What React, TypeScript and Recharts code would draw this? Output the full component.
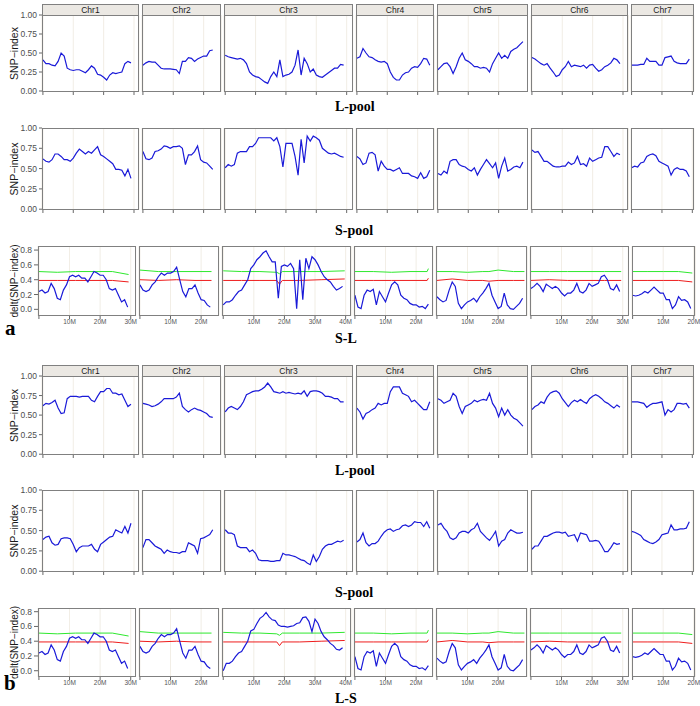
import React from 'react';
import { LineChart, Line, XAxis, YAxis, CartesianGrid } from 'recharts';

// SNP-index / delta(SNP-index) facets, two comparisons (a: S-L, b: L-S)

const CHROMS = ['Chr1', 'Chr2', 'Chr3', 'Chr4', 'Chr5', 'Chr6', 'Chr7'];
const X_DOMAINS: [number, number][] = [
  [-0.3, 31.6], [-0.3, 25.8], [-0.4, 42.0], [-0.3, 25.5], [-0.3, 29.5], [-0.3, 31.8], [-0.2, 20.5],
];
const X_TICKS = [[0, 10, 20, 30], [0, 10, 20], [0, 10, 20, 30, 40], [0, 10, 20], [0, 10, 20], [0, 10, 20, 30], [0, 10, 20]];
const SNP_TICKS = [0, 0.25, 0.5, 0.75, 1];
const DELTA_TICKS = [0, 0.2, 0.4, 0.6, 0.8];

// window positions (Mb) per chromosome
const POS = [
  [0, 1, 2, 3, 4, 5, 6, 7, 8, 9, 10, 11, 12, 13, 14, 15, 16, 17, 18, 19, 20, 21, 22, 23, 24, 25, 26, 27, 28, 29],
  [0, 1, 2, 3, 4, 5, 6, 7, 8, 9, 10, 11, 12, 13, 14, 15, 16, 17, 18, 19, 20, 21, 22, 23],
  [0, 1, 2, 3, 4, 5, 6, 7, 8, 9, 10, 11, 12, 13, 14, 15, 16, 17, 18, 19, 20, 21, 22, 23, 24, 25, 26, 27, 28, 29, 30, 31, 32, 33, 34, 35, 36, 37, 38, 39],
  [0, 1, 2, 3, 4, 5, 6, 7, 8, 9, 10, 11, 12, 13, 14, 15, 16, 17, 18, 19, 20, 21, 22, 23, 24],
  [0, 1, 2, 3, 4, 5, 6, 7, 8, 9, 10, 11, 12, 13, 14, 15, 16, 17, 18, 19, 20, 21, 22, 23, 24, 25, 26, 27, 28],
  [0, 1, 2, 3, 4, 5, 6, 7, 8, 9, 10, 11, 12, 13, 14, 15, 16, 17, 18, 19, 20, 21, 22, 23, 24, 25, 26, 27, 28, 29],
  [0, 1, 2, 3, 4, 5, 6, 7, 8, 9, 10, 11, 12, 13, 14, 15, 16, 17, 18, 19],
];

const A_L_POOL = [
  [0.41, 0.36, 0.36, 0.34, 0.33, 0.39, 0.5, 0.46, 0.3, 0.28, 0.27, 0.28, 0.28, 0.26, 0.24, 0.28, 0.33, 0.3, 0.22, 0.21, 0.18, 0.145, 0.21, 0.24, 0.23, 0.24, 0.25, 0.36, 0.39, 0.37],
  [0.34, 0.37, 0.39, 0.38, 0.38, 0.34, 0.3, 0.29, 0.29, 0.29, 0.285, 0.28, 0.23, 0.39, 0.39, 0.44, 0.43, 0.39, 0.42, 0.44, 0.46, 0.46, 0.53, 0.54],
  [0.47, 0.45, 0.44, 0.43, 0.42, 0.43, 0.41, 0.36, 0.25, 0.21, 0.19, 0.18, 0.15, 0.12, 0.1, 0.19, 0.25, 0.19, 0.41, 0.19, 0.21, 0.22, 0.25, 0.34, 0.54, 0.21, 0.43, 0.36, 0.25, 0.29, 0.21, 0.19, 0.18, 0.21, 0.24, 0.27, 0.3, 0.3, 0.35, 0.34],
  [0.43, 0.45, 0.56, 0.5, 0.45, 0.44, 0.41, 0.39, 0.38, 0.39, 0.36, 0.25, 0.18, 0.145, 0.145, 0.21, 0.24, 0.25, 0.3, 0.32, 0.31, 0.36, 0.43, 0.42, 0.34],
  [0.28, 0.32, 0.36, 0.37, 0.32, 0.23, 0.32, 0.43, 0.5, 0.41, 0.39, 0.36, 0.32, 0.32, 0.3, 0.31, 0.3, 0.25, 0.36, 0.43, 0.5, 0.43, 0.47, 0.43, 0.52, 0.55, 0.57, 0.61, 0.65],
  [0.44, 0.42, 0.39, 0.36, 0.34, 0.36, 0.3, 0.25, 0.19, 0.21, 0.28, 0.32, 0.39, 0.32, 0.34, 0.33, 0.32, 0.34, 0.3, 0.34, 0.35, 0.3, 0.26, 0.28, 0.32, 0.34, 0.37, 0.43, 0.41, 0.36],
  [0.34, 0.34, 0.34, 0.35, 0.35, 0.43, 0.39, 0.39, 0.39, 0.34, 0.34, 0.44, 0.45, 0.46, 0.39, 0.37, 0.36, 0.36, 0.36, 0.42],
];

const A_S_POOL = [
  [0.62, 0.59, 0.58, 0.61, 0.68, 0.68, 0.65, 0.61, 0.61, 0.59, 0.63, 0.69, 0.74, 0.71, 0.68, 0.71, 0.69, 0.73, 0.77, 0.67, 0.65, 0.62, 0.59, 0.56, 0.49, 0.49, 0.48, 0.41, 0.49, 0.38],
  [0.71, 0.62, 0.61, 0.63, 0.71, 0.72, 0.74, 0.78, 0.77, 0.75, 0.77, 0.77, 0.78, 0.75, 0.55, 0.67, 0.67, 0.71, 0.78, 0.61, 0.58, 0.57, 0.53, 0.49],
  [0.51, 0.55, 0.53, 0.55, 0.69, 0.71, 0.71, 0.71, 0.77, 0.77, 0.81, 0.88, 0.88, 0.88, 0.88, 0.88, 0.84, 0.88, 0.77, 0.52, 0.81, 0.81, 0.81, 0.65, 0.42, 0.86, 0.57, 0.9, 0.84, 0.9, 0.88, 0.85, 0.75, 0.72, 0.69, 0.68, 0.69, 0.67, 0.65, 0.64],
  [0.65, 0.62, 0.55, 0.57, 0.69, 0.7, 0.67, 0.47, 0.59, 0.53, 0.49, 0.49, 0.47, 0.49, 0.51, 0.44, 0.44, 0.44, 0.41, 0.4, 0.38, 0.45, 0.38, 0.4, 0.48],
  [0.44, 0.42, 0.47, 0.44, 0.59, 0.61, 0.61, 0.55, 0.53, 0.52, 0.49, 0.47, 0.51, 0.42, 0.49, 0.55, 0.61, 0.56, 0.51, 0.57, 0.38, 0.53, 0.63, 0.47, 0.49, 0.52, 0.53, 0.51, 0.58],
  [0.73, 0.7, 0.71, 0.65, 0.59, 0.59, 0.56, 0.53, 0.52, 0.52, 0.53, 0.53, 0.58, 0.55, 0.57, 0.65, 0.55, 0.56, 0.53, 0.63, 0.59, 0.61, 0.63, 0.64, 0.77, 0.77, 0.71, 0.65, 0.69, 0.67],
  [0.51, 0.53, 0.52, 0.57, 0.58, 0.65, 0.67, 0.68, 0.66, 0.59, 0.57, 0.55, 0.53, 0.42, 0.49, 0.51, 0.49, 0.49, 0.47, 0.4],
];

const A_DELTA = [
  [0.24, 0.26, 0.22, 0.24, 0.35, 0.28, 0.15, 0.13, 0.26, 0.33, 0.44, 0.46, 0.44, 0.46, 0.42, 0.42, 0.37, 0.44, 0.51, 0.49, 0.46, 0.46, 0.4, 0.28, 0.26, 0.28, 0.19, 0.1, 0.13, 0.03],
  [0.33, 0.26, 0.24, 0.26, 0.33, 0.37, 0.44, 0.49, 0.46, 0.49, 0.49, 0.51, 0.57, 0.4, 0.24, 0.17, 0.28, 0.28, 0.33, 0.22, 0.13, 0.12, 0.06, 0.03],
  [0.06, 0.1, 0.1, 0.13, 0.19, 0.24, 0.26, 0.33, 0.4, 0.55, 0.6, 0.67, 0.71, 0.76, 0.79, 0.71, 0.64, 0.64, 0.15, 0.58, 0.6, 0.58, 0.62, 0.55, 0.01, 0.67, 0.13, 0.69, 0.55, 0.71, 0.67, 0.6, 0.51, 0.44, 0.4, 0.37, 0.31, 0.26, 0.28, 0.31],
  [0.19, 0.03, 0.01, 0.19, 0.26, 0.24, 0.27, 0.06, 0.24, 0.17, 0.1, 0.22, 0.33, 0.37, 0.33, 0.19, 0.15, 0.13, 0.08, 0.06, 0.06, 0.03, 0.04, 0.01, 0.07],
  [0.17, 0.13, 0.1, 0.12, 0.26, 0.37, 0.31, 0.08, 0.01, 0.06, 0.1, 0.12, 0.15, 0.1, 0.17, 0.22, 0.28, 0.35, 0.19, 0.1, 0.01, 0.04, 0.22, 0.06, 0.01, 0.0, 0.04, 0.08, 0.15],
  [0.28, 0.31, 0.35, 0.31, 0.24, 0.34, 0.31, 0.28, 0.31, 0.28, 0.22, 0.18, 0.22, 0.22, 0.26, 0.35, 0.24, 0.22, 0.26, 0.35, 0.31, 0.33, 0.35, 0.44, 0.46, 0.4, 0.28, 0.26, 0.33, 0.24],
  [0.19, 0.18, 0.19, 0.21, 0.24, 0.22, 0.26, 0.3, 0.26, 0.22, 0.22, 0.13, 0.13, 0.01, 0.06, 0.17, 0.12, 0.13, 0.1, 0.01],
];

const B_L_POOL = [
  [0.62, 0.65, 0.64, 0.66, 0.69, 0.59, 0.52, 0.53, 0.71, 0.74, 0.74, 0.74, 0.73, 0.74, 0.74, 0.74, 0.69, 0.67, 0.74, 0.8, 0.8, 0.84, 0.84, 0.78, 0.78, 0.76, 0.77, 0.69, 0.61, 0.64],
  [0.65, 0.64, 0.63, 0.61, 0.62, 0.64, 0.67, 0.71, 0.71, 0.71, 0.71, 0.73, 0.78, 0.61, 0.57, 0.54, 0.57, 0.59, 0.57, 0.56, 0.54, 0.52, 0.48, 0.47],
  [0.54, 0.59, 0.61, 0.59, 0.57, 0.61, 0.67, 0.76, 0.78, 0.8, 0.81, 0.81, 0.83, 0.86, 0.91, 0.86, 0.8, 0.79, 0.78, 0.8, 0.78, 0.79, 0.78, 0.77, 0.78, 0.77, 0.81, 0.74, 0.8, 0.81, 0.81, 0.8, 0.78, 0.74, 0.74, 0.73, 0.71, 0.71, 0.67, 0.67],
  [0.59, 0.54, 0.45, 0.52, 0.54, 0.57, 0.59, 0.65, 0.63, 0.65, 0.65, 0.8, 0.86, 0.86, 0.86, 0.78, 0.76, 0.74, 0.67, 0.69, 0.65, 0.61, 0.57, 0.57, 0.67],
  [0.71, 0.69, 0.65, 0.67, 0.69, 0.78, 0.74, 0.61, 0.52, 0.61, 0.63, 0.65, 0.69, 0.67, 0.69, 0.7, 0.69, 0.78, 0.65, 0.59, 0.48, 0.59, 0.5, 0.57, 0.5, 0.46, 0.44, 0.4, 0.36],
  [0.57, 0.61, 0.63, 0.67, 0.65, 0.73, 0.78, 0.8, 0.81, 0.78, 0.71, 0.66, 0.61, 0.66, 0.69, 0.67, 0.7, 0.67, 0.65, 0.71, 0.74, 0.76, 0.74, 0.71, 0.67, 0.65, 0.62, 0.59, 0.63, 0.6],
  [0.67, 0.67, 0.67, 0.66, 0.65, 0.6, 0.63, 0.65, 0.65, 0.66, 0.67, 0.5, 0.57, 0.54, 0.57, 0.65, 0.65, 0.64, 0.65, 0.59],
];

const B_S_POOL = [
  [0.39, 0.42, 0.43, 0.35, 0.32, 0.33, 0.4, 0.41, 0.41, 0.4, 0.33, 0.24, 0.29, 0.31, 0.31, 0.31, 0.33, 0.27, 0.24, 0.33, 0.36, 0.39, 0.42, 0.43, 0.51, 0.49, 0.47, 0.55, 0.47, 0.59],
  [0.29, 0.39, 0.39, 0.35, 0.31, 0.29, 0.27, 0.22, 0.26, 0.24, 0.23, 0.23, 0.22, 0.24, 0.24, 0.35, 0.33, 0.31, 0.22, 0.4, 0.41, 0.43, 0.45, 0.51],
  [0.51, 0.47, 0.47, 0.45, 0.31, 0.29, 0.29, 0.29, 0.24, 0.26, 0.22, 0.14, 0.13, 0.13, 0.13, 0.12, 0.12, 0.13, 0.13, 0.22, 0.2, 0.2, 0.19, 0.18, 0.16, 0.14, 0.13, 0.1, 0.08, 0.2, 0.12, 0.18, 0.27, 0.31, 0.33, 0.33, 0.35, 0.37, 0.36, 0.38],
  [0.36, 0.39, 0.47, 0.35, 0.31, 0.34, 0.34, 0.37, 0.43, 0.48, 0.51, 0.52, 0.49, 0.51, 0.52, 0.56, 0.57, 0.55, 0.57, 0.61, 0.6, 0.6, 0.55, 0.61, 0.53],
  [0.57, 0.59, 0.53, 0.49, 0.41, 0.39, 0.41, 0.47, 0.49, 0.49, 0.47, 0.51, 0.53, 0.59, 0.49, 0.45, 0.41, 0.38, 0.43, 0.49, 0.31, 0.37, 0.39, 0.47, 0.51, 0.49, 0.47, 0.47, 0.48],
  [0.27, 0.31, 0.31, 0.37, 0.43, 0.43, 0.45, 0.47, 0.48, 0.48, 0.47, 0.48, 0.43, 0.44, 0.45, 0.37, 0.47, 0.46, 0.45, 0.37, 0.37, 0.38, 0.37, 0.31, 0.24, 0.24, 0.29, 0.35, 0.33, 0.34],
  [0.49, 0.48, 0.46, 0.44, 0.39, 0.37, 0.35, 0.34, 0.36, 0.39, 0.45, 0.46, 0.47, 0.57, 0.51, 0.51, 0.52, 0.52, 0.53, 0.61],
];

const B_DELTA_CHR3 = [0.0, 0.1, 0.1, 0.13, 0.19, 0.24, 0.26, 0.33, 0.4, 0.54, 0.56, 0.64, 0.71, 0.74, 0.79, 0.73, 0.69, 0.68, 0.62, 0.6, 0.6, 0.59, 0.6, 0.61, 0.64, 0.65, 0.72, 0.73, 0.67, 0.53, 0.7, 0.64, 0.53, 0.46, 0.42, 0.37, 0.34, 0.29, 0.28, 0.31];
// the other chromosomes read the same in both delta rows
const B_DELTA = [A_DELTA[0], A_DELTA[1], B_DELTA_CHR3, A_DELTA[3], A_DELTA[4], A_DELTA[5], A_DELTA[6]];

// confidence thresholds (green 99%, red 95%)
const THR_POS = [
  [0, 6, 12, 18, 24, 29.3],
  [0, 6, 12, 18, 23.4],
  [0, 6, 12, 17.5, 18.4, 19.3, 25, 32, 39.7],
  [0, 6, 12, 18, 23.6, 24],
  [0, 5, 10, 15, 17, 20, 25, 28.6],
  [0, 6, 12, 18, 24, 29.5],
  [0, 5, 10, 15, 19.5],
];
const GREEN = [
  [0.51, 0.5, 0.51, 0.51, 0.51, 0.47],
  [0.53, 0.51, 0.51, 0.51, 0.51],
  [0.52, 0.51, 0.51, 0.5, 0.48, 0.51, 0.51, 0.51, 0.52],
  [0.51, 0.51, 0.5, 0.51, 0.51, 0.55],
  [0.51, 0.51, 0.5, 0.51, 0.51, 0.53, 0.51, 0.51],
  [0.51, 0.51, 0.51, 0.51, 0.51, 0.51],
  [0.51, 0.51, 0.51, 0.51, 0.49],
];
const RED = [
  [0.39, 0.39, 0.39, 0.39, 0.39, 0.37],
  [0.4, 0.39, 0.4, 0.39, 0.39],
  [0.39, 0.39, 0.39, 0.39, 0.34, 0.39, 0.39, 0.4, 0.41],
  [0.39, 0.39, 0.39, 0.39, 0.39, 0.42],
  [0.39, 0.41, 0.39, 0.39, 0.38, 0.39, 0.39, 0.39],
  [0.39, 0.4, 0.39, 0.39, 0.39, 0.39],
  [0.39, 0.39, 0.39, 0.39, 0.37],
];

const SANS = '"Liberation Sans", Arial, Helvetica, sans-serif';
const SERIF = '"Liberation Serif", "Times New Roman", serif';
const BORDER = '#808080';
const GAP = 3;

type Row = {
  kind: 'snp' | 'delta';
  top: number;
  h: number;
  domain: [number, number];
  values: number[][];
  strip?: number;
  title: string;
  titleY: number;
};

const ROWS: Row[] = [
  { kind: 'snp', top: 15, h: 77, domain: [-0.013, 1], values: A_L_POOL, strip: 4, title: 'L-pool', titleY: 111 },
  { kind: 'snp', top: 128, h: 82, domain: [-0.01, 1], values: A_S_POOL, title: 'S-pool', titleY: 235 },
  { kind: 'delta', top: 246, h: 70, domain: [-0.09, 0.855], values: A_DELTA, title: 'S-L', titleY: 343 },
  { kind: 'snp', top: 376, h: 79, domain: [-0.01, 1], values: B_L_POOL, strip: 365, title: 'L-pool', titleY: 475 },
  { kind: 'snp', top: 490, h: 82, domain: [-0.01, 1], values: B_S_POOL, title: 'S-pool', titleY: 597 },
  { kind: 'delta', top: 608, h: 69, domain: [-0.085, 0.85], values: B_DELTA, title: 'L-S', titleY: 703 },
];

function layout(left: number, right: number) {
  const spans = X_DOMAINS.map(([lo, hi]) => hi - lo);
  const total = spans.reduce((a, b) => a + b, 0);
  const k = (right - left - GAP * (spans.length - 1)) / total;
  let x = left;
  return spans.map((s) => {
    const o = { x, w: s * k };
    x += s * k + GAP;
    return o;
  });
}

const SNP_LAYOUT = layout(42, 694);
const DELTA_LAYOUT = layout(38, 695);

function Panel({ row, i }: { row: Row; i: number }) {
  const isDelta = row.kind === 'delta';
  const { x, w } = (isDelta ? DELTA_LAYOUT : SNP_LAYOUT)[i];
  const withY = i === 0;
  const yW = withY ? 34 : 0;
  const axisH = isDelta ? 14 : 5;
  const data = POS[i].map((p, k) => ({ pos: p, v: row.values[i][k] }));
  const green = THR_POS[i].map((p, k) => ({ pos: p, v: GREEN[i][k] }));
  const red = THR_POS[i].map((p, k) => ({ pos: p, v: RED[i][k] }));

  return (
    <div style={{ position: 'absolute', left: x - yW, top: row.top, width: w + yW, height: row.h + axisH }}>
      <LineChart width={w + yW} height={row.h + axisH} margin={{ top: 0, right: 0, bottom: 0, left: 0 }}>
        <CartesianGrid horizontal={false} stroke="#ede8de" strokeWidth={0.8} />
        <XAxis
          type="number"
          dataKey="pos"
          domain={X_DOMAINS[i]}
          ticks={X_TICKS[i]}
          allowDataOverflow
          interval={0}
          height={axisH}
          axisLine={false}
          tickSize={3}
          tickMargin={0}
          tickLine={{ stroke: '#666' }}
          tick={{ fontSize: 6.5, fill: '#555', fontFamily: SANS }}
          tickFormatter={(t: number) => (isDelta && t !== 0 ? `${t}M` : '')}
        />
        <YAxis
          type="number"
          domain={row.domain}
          allowDataOverflow
          hide={!withY}
          width={yW}
          ticks={isDelta ? DELTA_TICKS : SNP_TICKS}
          interval={0}
          axisLine={false}
          tickSize={isDelta ? 4 : 3}
          tickLine={{ stroke: '#666' }}
          tick={{ fontSize: 8.5, fill: '#4d4d4d', fontFamily: SANS }}
          tickFormatter={(t: number) => t.toFixed(isDelta ? 1 : 2)}
        />
        {isDelta && (
          <Line data={green} dataKey="v" stroke="#2ee82e" strokeWidth={1} dot={false} isAnimationActive={false} />
        )}
        {isDelta && (
          <Line data={red} dataKey="v" stroke="#ee1c1c" strokeWidth={1} dot={false} isAnimationActive={false} />
        )}
        <Line data={data} dataKey="v" stroke="#1a1ad8" strokeWidth={1.2} dot={false} isAnimationActive={false} />
      </LineChart>
      <div
        style={{
          position: 'absolute', left: yW, top: 0, width: w, height: row.h,
          border: `1px solid ${BORDER}`, boxSizing: 'border-box', pointerEvents: 'none',
        }}
      />
      {row.strip !== undefined && (
        <div
          style={{
            position: 'absolute', left: yW, top: row.strip - row.top, width: w, height: row.top - row.strip + 1,
            background: '#ebe8e3', border: `1px solid ${BORDER}`, boxSizing: 'border-box',
            fontFamily: SANS, fontSize: 8.5, color: '#1a1a1a', textAlign: 'center', lineHeight: `${row.top - row.strip - 1}px`,
          }}
        >
          {CHROMS[i]}
        </div>
      )}
    </div>
  );
}

export default function App() {
  return (
    <div style={{ position: 'absolute', left: 0, top: 0, width: 700, height: 706, background: '#fff', overflow: 'hidden' }}>
      <style>{'.recharts-surface{overflow:visible}'}</style>
      {ROWS.map((row, r) => (
        <React.Fragment key={r}>
          {CHROMS.map((c, i) => (
            <Panel key={c} row={row} i={i} />
          ))}
        </React.Fragment>
      ))}
      <svg width={700} height={706} style={{ position: 'absolute', left: 0, top: 0, pointerEvents: 'none' }}>
        {ROWS.map((row, r) => (
          <g key={r}>
            <text
              transform={`translate(17.5, ${row.top + row.h / 2}) rotate(-90)`}
              textAnchor="middle"
              fontFamily={SANS}
              fontSize={row.kind === 'delta' ? 10 : 10.5}
              fill="#1a1a1a"
            >
              {row.kind === 'delta' ? 'delt(SNP\u2212index)' : 'SNP\u2212index'}
            </text>
            <text x={335} y={row.titleY} fontFamily={SERIF} fontWeight="bold" fontSize={14} fill="#000">
              {row.title}
            </text>
          </g>
        ))}
        <text x={5} y={335} fontFamily={SERIF} fontWeight="bold" fontSize={21} fill="#000">a</text>
        <text x={4} y={690} fontFamily={SERIF} fontWeight="bold" fontSize={21} fill="#000">b</text>
      </svg>
    </div>
  );
}
